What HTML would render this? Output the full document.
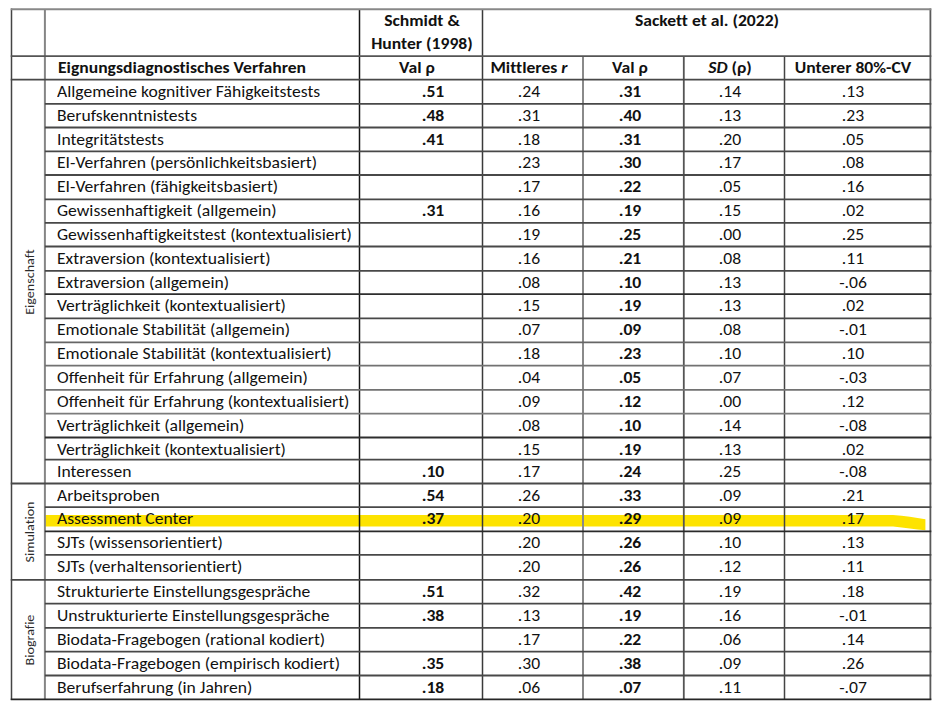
<!DOCTYPE html>
<html lang="de"><head><meta charset="utf-8"><title>Validität eignungsdiagnostischer Verfahren</title>
<style>
html,body{margin:0;padding:0;background:#fff;}
body{width:945px;height:709px;position:relative;overflow:hidden;font-family:Carlito,"Liberation Sans",sans-serif;color:#111;}
.l{position:absolute;}
.hl{position:absolute;left:0;top:0;}
.t{position:absolute;font-size:16px;line-height:20px;white-space:nowrap;transform-origin:0 50%;font-variant-ligatures:none;}
.t.c{text-align:center;transform-origin:50% 50%;}
.b{font-weight:bold;}
.v{position:absolute;width:100px;height:20px;line-height:20px;font-size:12.8px;letter-spacing:0;text-align:center;transform:rotate(-90deg) scaleX(1.1);white-space:nowrap;color:#2a2a2a;font-variant-ligatures:none;}
</style></head><body>
<svg class="hl" width="945" height="709" viewBox="0 0 945 709">
<path d="M44.5 514.9 L893 514.9 C905 515.7 915 517.6 925.4 519.2 L925.4 530.2 C915 529.5 905 527.5 893 526.5 L44.5 526.5 Z" fill="#fde300"/>
<line x1="11.50" y1="8.47" x2="11.50" y2="700.10" stroke="#444" stroke-width="1.5"/>
<line x1="44.90" y1="9.27" x2="44.90" y2="699.30" stroke="#858585" stroke-width="2.0"/>
<line x1="359.50" y1="9.27" x2="359.50" y2="699.30" stroke="#151515" stroke-width="1.5"/>
<line x1="482.50" y1="9.27" x2="482.50" y2="699.30" stroke="#3a3a3a" stroke-width="1.5"/>
<line x1="583.00" y1="56.10" x2="583.00" y2="699.30" stroke="#8a8a8a" stroke-width="2.0"/>
<line x1="683.80" y1="56.10" x2="683.80" y2="699.30" stroke="#555" stroke-width="1.8"/>
<line x1="784.50" y1="56.10" x2="784.50" y2="699.30" stroke="#444" stroke-width="1.5"/>
<line x1="930.40" y1="8.47" x2="930.40" y2="700.10" stroke="#5a5a5a" stroke-width="1.8"/>
<line x1="10.75" y1="9.27" x2="931.30" y2="9.27" stroke="#888" stroke-width="2.0"/>
<line x1="10.75" y1="56.10" x2="931.30" y2="56.10" stroke="#555" stroke-width="1.8"/>
<line x1="10.75" y1="79.70" x2="931.30" y2="79.70" stroke="#484848" stroke-width="1.8"/>
<line x1="44.90" y1="103.90" x2="931.30" y2="103.90" stroke="#484848" stroke-width="1.8"/>
<line x1="44.90" y1="127.50" x2="931.30" y2="127.50" stroke="#484848" stroke-width="1.8"/>
<line x1="44.90" y1="151.40" x2="931.30" y2="151.40" stroke="#484848" stroke-width="1.8"/>
<line x1="44.90" y1="175.00" x2="931.30" y2="175.00" stroke="#484848" stroke-width="1.8"/>
<line x1="44.90" y1="199.30" x2="931.30" y2="199.30" stroke="#484848" stroke-width="1.8"/>
<line x1="44.90" y1="222.90" x2="931.30" y2="222.90" stroke="#484848" stroke-width="1.8"/>
<line x1="44.90" y1="246.50" x2="931.30" y2="246.50" stroke="#484848" stroke-width="1.8"/>
<line x1="44.90" y1="270.90" x2="931.30" y2="270.90" stroke="#484848" stroke-width="1.8"/>
<line x1="44.90" y1="294.10" x2="931.30" y2="294.10" stroke="#2e2e2e" stroke-width="1.8"/>
<line x1="44.90" y1="318.30" x2="931.30" y2="318.30" stroke="#484848" stroke-width="1.8"/>
<line x1="44.90" y1="342.30" x2="931.30" y2="342.30" stroke="#666" stroke-width="1.8"/>
<line x1="44.90" y1="365.60" x2="931.30" y2="365.60" stroke="#727272" stroke-width="1.8"/>
<line x1="44.90" y1="389.90" x2="931.30" y2="389.90" stroke="#727272" stroke-width="1.8"/>
<line x1="44.90" y1="413.60" x2="931.30" y2="413.60" stroke="#7c7c7c" stroke-width="1.8"/>
<line x1="44.90" y1="437.50" x2="931.30" y2="437.50" stroke="#2e2e2e" stroke-width="1.8"/>
<line x1="44.90" y1="459.70" x2="931.30" y2="459.70" stroke="#484848" stroke-width="1.8"/>
<line x1="10.75" y1="483.50" x2="931.30" y2="483.50" stroke="#484848" stroke-width="1.8"/>
<line x1="44.90" y1="507.20" x2="931.30" y2="507.20" stroke="#484848" stroke-width="1.8"/>
<line x1="44.90" y1="531.40" x2="931.30" y2="531.40" stroke="#2a2a2a" stroke-width="1.8"/>
<line x1="44.90" y1="554.90" x2="931.30" y2="554.90" stroke="#484848" stroke-width="1.8"/>
<line x1="10.75" y1="579.90" x2="931.30" y2="579.90" stroke="#484848" stroke-width="1.8"/>
<line x1="44.90" y1="603.70" x2="931.30" y2="603.70" stroke="#484848" stroke-width="1.8"/>
<line x1="44.90" y1="627.80" x2="931.30" y2="627.80" stroke="#484848" stroke-width="1.8"/>
<line x1="44.90" y1="651.60" x2="931.30" y2="651.60" stroke="#484848" stroke-width="1.8"/>
<line x1="44.90" y1="675.50" x2="931.30" y2="675.50" stroke="#484848" stroke-width="1.8"/>
<line x1="10.75" y1="699.30" x2="931.30" y2="699.30" stroke="#262626" stroke-width="1.8"/>
</svg>
<div class="t c b" style="left:321.50px;top:11.40px;width:200px;transform:scaleX(1.1)">Schmidt &amp;</div>
<div class="t c b" style="left:322.00px;top:33.90px;width:200px;transform:scaleX(1.1)">Hunter (1998)</div>
<div class="t c b" style="left:607.40px;top:10.60px;width:200px;transform:scaleX(1.1)">Sackett et al. (2022)</div>
<div class="t b" style="left:57.80px;top:57.80px;transform:scaleX(1.1);">Eignungsdiagnostisches Verfahren</div>
<div class="t c b" style="left:316.80px;top:57.80px;width:200px;transform:scaleX(1.1)">Val ρ</div>
<div class="t c b" style="left:428.50px;top:57.80px;width:200px;transform:scaleX(1.1)">Mittleres <i>r</i></div>
<div class="t c b" style="left:529.70px;top:57.80px;width:200px;transform:scaleX(1.1)">Val ρ</div>
<div class="t c b" style="left:629.80px;top:57.80px;width:200px;transform:scaleX(1.1)"><i>SD</i> (ρ)</div>
<div class="t c b" style="left:753.30px;top:57.80px;width:200px;transform:scaleX(1.1)">Unterer 80%-CV</div>
<div class="t" style="left:57.00px;top:81.70px;transform:scaleX(1.1);">Allgemeine kognitiver Fähigkeitstests</div>
<div class="t c b" style="left:333.00px;top:81.70px;width:200px;transform:scaleX(1.1)">.51</div>
<div class="t c" style="left:428.60px;top:81.70px;width:200px;transform:scaleX(1.1)">.24</div>
<div class="t c b" style="left:529.60px;top:81.70px;width:200px;transform:scaleX(1.1)">.31</div>
<div class="t c" style="left:629.90px;top:81.70px;width:200px;transform:scaleX(1.1)">.14</div>
<div class="t c" style="left:753.00px;top:81.70px;width:200px;transform:scaleX(1.1)">.13</div>
<div class="t" style="left:57.00px;top:105.90px;transform:scaleX(1.1);">Berufskenntnistests</div>
<div class="t c b" style="left:333.00px;top:105.90px;width:200px;transform:scaleX(1.1)">.48</div>
<div class="t c" style="left:428.60px;top:105.90px;width:200px;transform:scaleX(1.1)">.31</div>
<div class="t c b" style="left:529.60px;top:105.90px;width:200px;transform:scaleX(1.1)">.40</div>
<div class="t c" style="left:629.90px;top:105.90px;width:200px;transform:scaleX(1.1)">.13</div>
<div class="t c" style="left:753.00px;top:105.90px;width:200px;transform:scaleX(1.1)">.23</div>
<div class="t" style="left:57.00px;top:129.50px;transform:scaleX(1.1);">Integritätstests</div>
<div class="t c b" style="left:333.00px;top:129.50px;width:200px;transform:scaleX(1.1)">.41</div>
<div class="t c" style="left:428.60px;top:129.50px;width:200px;transform:scaleX(1.1)">.18</div>
<div class="t c b" style="left:529.60px;top:129.50px;width:200px;transform:scaleX(1.1)">.31</div>
<div class="t c" style="left:629.90px;top:129.50px;width:200px;transform:scaleX(1.1)">.20</div>
<div class="t c" style="left:753.00px;top:129.50px;width:200px;transform:scaleX(1.1)">.05</div>
<div class="t" style="left:57.00px;top:153.40px;transform:scaleX(1.1);">EI-Verfahren (persönlichkeitsbasiert)</div>
<div class="t c" style="left:428.60px;top:153.40px;width:200px;transform:scaleX(1.1)">.23</div>
<div class="t c b" style="left:529.60px;top:153.40px;width:200px;transform:scaleX(1.1)">.30</div>
<div class="t c" style="left:629.90px;top:153.40px;width:200px;transform:scaleX(1.1)">.17</div>
<div class="t c" style="left:753.00px;top:153.40px;width:200px;transform:scaleX(1.1)">.08</div>
<div class="t" style="left:57.00px;top:177.00px;transform:scaleX(1.1);">EI-Verfahren (fähigkeitsbasiert)</div>
<div class="t c" style="left:428.60px;top:177.00px;width:200px;transform:scaleX(1.1)">.17</div>
<div class="t c b" style="left:529.60px;top:177.00px;width:200px;transform:scaleX(1.1)">.22</div>
<div class="t c" style="left:629.90px;top:177.00px;width:200px;transform:scaleX(1.1)">.05</div>
<div class="t c" style="left:753.00px;top:177.00px;width:200px;transform:scaleX(1.1)">.16</div>
<div class="t" style="left:57.00px;top:201.30px;transform:scaleX(1.1);">Gewissenhaftigkeit (allgemein)</div>
<div class="t c b" style="left:333.00px;top:201.30px;width:200px;transform:scaleX(1.1)">.31</div>
<div class="t c" style="left:428.60px;top:201.30px;width:200px;transform:scaleX(1.1)">.16</div>
<div class="t c b" style="left:529.60px;top:201.30px;width:200px;transform:scaleX(1.1)">.19</div>
<div class="t c" style="left:629.90px;top:201.30px;width:200px;transform:scaleX(1.1)">.15</div>
<div class="t c" style="left:753.00px;top:201.30px;width:200px;transform:scaleX(1.1)">.02</div>
<div class="t" style="left:57.00px;top:224.90px;transform:scaleX(1.1);">Gewissenhaftigkeitstest (kontextualisiert)</div>
<div class="t c" style="left:428.60px;top:224.90px;width:200px;transform:scaleX(1.1)">.19</div>
<div class="t c b" style="left:529.60px;top:224.90px;width:200px;transform:scaleX(1.1)">.25</div>
<div class="t c" style="left:629.90px;top:224.90px;width:200px;transform:scaleX(1.1)">.00</div>
<div class="t c" style="left:753.00px;top:224.90px;width:200px;transform:scaleX(1.1)">.25</div>
<div class="t" style="left:57.00px;top:248.50px;transform:scaleX(1.1);">Extraversion (kontextualisiert)</div>
<div class="t c" style="left:428.60px;top:248.50px;width:200px;transform:scaleX(1.1)">.16</div>
<div class="t c b" style="left:529.60px;top:248.50px;width:200px;transform:scaleX(1.1)">.21</div>
<div class="t c" style="left:629.90px;top:248.50px;width:200px;transform:scaleX(1.1)">.08</div>
<div class="t c" style="left:753.00px;top:248.50px;width:200px;transform:scaleX(1.1)">.11</div>
<div class="t" style="left:57.00px;top:272.90px;transform:scaleX(1.1);">Extraversion (allgemein)</div>
<div class="t c" style="left:428.60px;top:272.90px;width:200px;transform:scaleX(1.1)">.08</div>
<div class="t c b" style="left:529.60px;top:272.90px;width:200px;transform:scaleX(1.1)">.10</div>
<div class="t c" style="left:629.90px;top:272.90px;width:200px;transform:scaleX(1.1)">.13</div>
<div class="t c" style="left:753.00px;top:272.90px;width:200px;transform:scaleX(1.1)">-.06</div>
<div class="t" style="left:57.00px;top:296.10px;transform:scaleX(1.1);">Verträglichkeit (kontextualisiert)</div>
<div class="t c" style="left:428.60px;top:296.10px;width:200px;transform:scaleX(1.1)">.15</div>
<div class="t c b" style="left:529.60px;top:296.10px;width:200px;transform:scaleX(1.1)">.19</div>
<div class="t c" style="left:629.90px;top:296.10px;width:200px;transform:scaleX(1.1)">.13</div>
<div class="t c" style="left:753.00px;top:296.10px;width:200px;transform:scaleX(1.1)">.02</div>
<div class="t" style="left:57.00px;top:320.30px;transform:scaleX(1.1);">Emotionale Stabilität (allgemein)</div>
<div class="t c" style="left:428.60px;top:320.30px;width:200px;transform:scaleX(1.1)">.07</div>
<div class="t c b" style="left:529.60px;top:320.30px;width:200px;transform:scaleX(1.1)">.09</div>
<div class="t c" style="left:629.90px;top:320.30px;width:200px;transform:scaleX(1.1)">.08</div>
<div class="t c" style="left:753.00px;top:320.30px;width:200px;transform:scaleX(1.1)">-.01</div>
<div class="t" style="left:57.00px;top:344.30px;transform:scaleX(1.1);">Emotionale Stabilität (kontextualisiert)</div>
<div class="t c" style="left:428.60px;top:344.30px;width:200px;transform:scaleX(1.1)">.18</div>
<div class="t c b" style="left:529.60px;top:344.30px;width:200px;transform:scaleX(1.1)">.23</div>
<div class="t c" style="left:629.90px;top:344.30px;width:200px;transform:scaleX(1.1)">.10</div>
<div class="t c" style="left:753.00px;top:344.30px;width:200px;transform:scaleX(1.1)">.10</div>
<div class="t" style="left:57.00px;top:367.60px;transform:scaleX(1.1);">Offenheit für Erfahrung (allgemein)</div>
<div class="t c" style="left:428.60px;top:367.60px;width:200px;transform:scaleX(1.1)">.04</div>
<div class="t c b" style="left:529.60px;top:367.60px;width:200px;transform:scaleX(1.1)">.05</div>
<div class="t c" style="left:629.90px;top:367.60px;width:200px;transform:scaleX(1.1)">.07</div>
<div class="t c" style="left:753.00px;top:367.60px;width:200px;transform:scaleX(1.1)">-.03</div>
<div class="t" style="left:57.00px;top:391.90px;transform:scaleX(1.1);">Offenheit für Erfahrung (kontextualisiert)</div>
<div class="t c" style="left:428.60px;top:391.90px;width:200px;transform:scaleX(1.1)">.09</div>
<div class="t c b" style="left:529.60px;top:391.90px;width:200px;transform:scaleX(1.1)">.12</div>
<div class="t c" style="left:629.90px;top:391.90px;width:200px;transform:scaleX(1.1)">.00</div>
<div class="t c" style="left:753.00px;top:391.90px;width:200px;transform:scaleX(1.1)">.12</div>
<div class="t" style="left:57.00px;top:415.60px;transform:scaleX(1.1);">Verträglichkeit (allgemein)</div>
<div class="t c" style="left:428.60px;top:415.60px;width:200px;transform:scaleX(1.1)">.08</div>
<div class="t c b" style="left:529.60px;top:415.60px;width:200px;transform:scaleX(1.1)">.10</div>
<div class="t c" style="left:629.90px;top:415.60px;width:200px;transform:scaleX(1.1)">.14</div>
<div class="t c" style="left:753.00px;top:415.60px;width:200px;transform:scaleX(1.1)">-.08</div>
<div class="t" style="left:57.00px;top:439.50px;transform:scaleX(1.1);">Verträglichkeit (kontextualisiert)</div>
<div class="t c" style="left:428.60px;top:439.50px;width:200px;transform:scaleX(1.1)">.15</div>
<div class="t c b" style="left:529.60px;top:439.50px;width:200px;transform:scaleX(1.1)">.19</div>
<div class="t c" style="left:629.90px;top:439.50px;width:200px;transform:scaleX(1.1)">.13</div>
<div class="t c" style="left:753.00px;top:439.50px;width:200px;transform:scaleX(1.1)">.02</div>
<div class="t" style="left:57.00px;top:461.70px;transform:scaleX(1.1);">Interessen</div>
<div class="t c b" style="left:333.00px;top:461.70px;width:200px;transform:scaleX(1.1)">.10</div>
<div class="t c" style="left:428.60px;top:461.70px;width:200px;transform:scaleX(1.1)">.17</div>
<div class="t c b" style="left:529.60px;top:461.70px;width:200px;transform:scaleX(1.1)">.24</div>
<div class="t c" style="left:629.90px;top:461.70px;width:200px;transform:scaleX(1.1)">.25</div>
<div class="t c" style="left:753.00px;top:461.70px;width:200px;transform:scaleX(1.1)">-.08</div>
<div class="t" style="left:57.00px;top:485.50px;transform:scaleX(1.1);">Arbeitsproben</div>
<div class="t c b" style="left:333.00px;top:485.50px;width:200px;transform:scaleX(1.1)">.54</div>
<div class="t c" style="left:428.60px;top:485.50px;width:200px;transform:scaleX(1.1)">.26</div>
<div class="t c b" style="left:529.60px;top:485.50px;width:200px;transform:scaleX(1.1)">.33</div>
<div class="t c" style="left:629.90px;top:485.50px;width:200px;transform:scaleX(1.1)">.09</div>
<div class="t c" style="left:753.00px;top:485.50px;width:200px;transform:scaleX(1.1)">.21</div>
<div class="t" style="left:57.00px;top:509.20px;transform:scaleX(1.1);">Assessment Center</div>
<div class="t c b" style="left:333.00px;top:509.20px;width:200px;transform:scaleX(1.1)">.37</div>
<div class="t c" style="left:428.60px;top:509.20px;width:200px;transform:scaleX(1.1)">.20</div>
<div class="t c b" style="left:529.60px;top:509.20px;width:200px;transform:scaleX(1.1)">.29</div>
<div class="t c" style="left:629.90px;top:509.20px;width:200px;transform:scaleX(1.1)">.09</div>
<div class="t c" style="left:753.00px;top:509.20px;width:200px;transform:scaleX(1.1)">.17</div>
<div class="t" style="left:57.00px;top:533.40px;transform:scaleX(1.1);">SJTs (wissensorientiert)</div>
<div class="t c" style="left:428.60px;top:533.40px;width:200px;transform:scaleX(1.1)">.20</div>
<div class="t c b" style="left:529.60px;top:533.40px;width:200px;transform:scaleX(1.1)">.26</div>
<div class="t c" style="left:629.90px;top:533.40px;width:200px;transform:scaleX(1.1)">.10</div>
<div class="t c" style="left:753.00px;top:533.40px;width:200px;transform:scaleX(1.1)">.13</div>
<div class="t" style="left:57.00px;top:556.90px;transform:scaleX(1.1);">SJTs (verhaltensorientiert)</div>
<div class="t c" style="left:428.60px;top:556.90px;width:200px;transform:scaleX(1.1)">.20</div>
<div class="t c b" style="left:529.60px;top:556.90px;width:200px;transform:scaleX(1.1)">.26</div>
<div class="t c" style="left:629.90px;top:556.90px;width:200px;transform:scaleX(1.1)">.12</div>
<div class="t c" style="left:753.00px;top:556.90px;width:200px;transform:scaleX(1.1)">.11</div>
<div class="t" style="left:57.00px;top:581.90px;transform:scaleX(1.1);">Strukturierte Einstellungsgespräche</div>
<div class="t c b" style="left:333.00px;top:581.90px;width:200px;transform:scaleX(1.1)">.51</div>
<div class="t c" style="left:428.60px;top:581.90px;width:200px;transform:scaleX(1.1)">.32</div>
<div class="t c b" style="left:529.60px;top:581.90px;width:200px;transform:scaleX(1.1)">.42</div>
<div class="t c" style="left:629.90px;top:581.90px;width:200px;transform:scaleX(1.1)">.19</div>
<div class="t c" style="left:753.00px;top:581.90px;width:200px;transform:scaleX(1.1)">.18</div>
<div class="t" style="left:57.00px;top:605.70px;transform:scaleX(1.1);">Unstrukturierte Einstellungsgespräche</div>
<div class="t c b" style="left:333.00px;top:605.70px;width:200px;transform:scaleX(1.1)">.38</div>
<div class="t c" style="left:428.60px;top:605.70px;width:200px;transform:scaleX(1.1)">.13</div>
<div class="t c b" style="left:529.60px;top:605.70px;width:200px;transform:scaleX(1.1)">.19</div>
<div class="t c" style="left:629.90px;top:605.70px;width:200px;transform:scaleX(1.1)">.16</div>
<div class="t c" style="left:753.00px;top:605.70px;width:200px;transform:scaleX(1.1)">-.01</div>
<div class="t" style="left:57.00px;top:629.80px;transform:scaleX(1.1);">Biodata-Fragebogen (rational kodiert)</div>
<div class="t c" style="left:428.60px;top:629.80px;width:200px;transform:scaleX(1.1)">.17</div>
<div class="t c b" style="left:529.60px;top:629.80px;width:200px;transform:scaleX(1.1)">.22</div>
<div class="t c" style="left:629.90px;top:629.80px;width:200px;transform:scaleX(1.1)">.06</div>
<div class="t c" style="left:753.00px;top:629.80px;width:200px;transform:scaleX(1.1)">.14</div>
<div class="t" style="left:57.00px;top:653.60px;transform:scaleX(1.1);">Biodata-Fragebogen (empirisch kodiert)</div>
<div class="t c b" style="left:333.00px;top:653.60px;width:200px;transform:scaleX(1.1)">.35</div>
<div class="t c" style="left:428.60px;top:653.60px;width:200px;transform:scaleX(1.1)">.30</div>
<div class="t c b" style="left:529.60px;top:653.60px;width:200px;transform:scaleX(1.1)">.38</div>
<div class="t c" style="left:629.90px;top:653.60px;width:200px;transform:scaleX(1.1)">.09</div>
<div class="t c" style="left:753.00px;top:653.60px;width:200px;transform:scaleX(1.1)">.26</div>
<div class="t" style="left:57.00px;top:677.50px;transform:scaleX(1.1);">Berufserfahrung (in Jahren)</div>
<div class="t c b" style="left:333.00px;top:677.50px;width:200px;transform:scaleX(1.1)">.18</div>
<div class="t c" style="left:428.60px;top:677.50px;width:200px;transform:scaleX(1.1)">.06</div>
<div class="t c b" style="left:529.60px;top:677.50px;width:200px;transform:scaleX(1.1)">.07</div>
<div class="t c" style="left:629.90px;top:677.50px;width:200px;transform:scaleX(1.1)">.11</div>
<div class="t c" style="left:753.00px;top:677.50px;width:200px;transform:scaleX(1.1)">-.07</div>
<div class="v" style="left:-20.40px;top:271.60px">Eigenschaft</div>
<div class="v" style="left:-20.40px;top:521.70px">Simulation</div>
<div class="v" style="left:-20.40px;top:629.60px">Biografie</div>
</body></html>
